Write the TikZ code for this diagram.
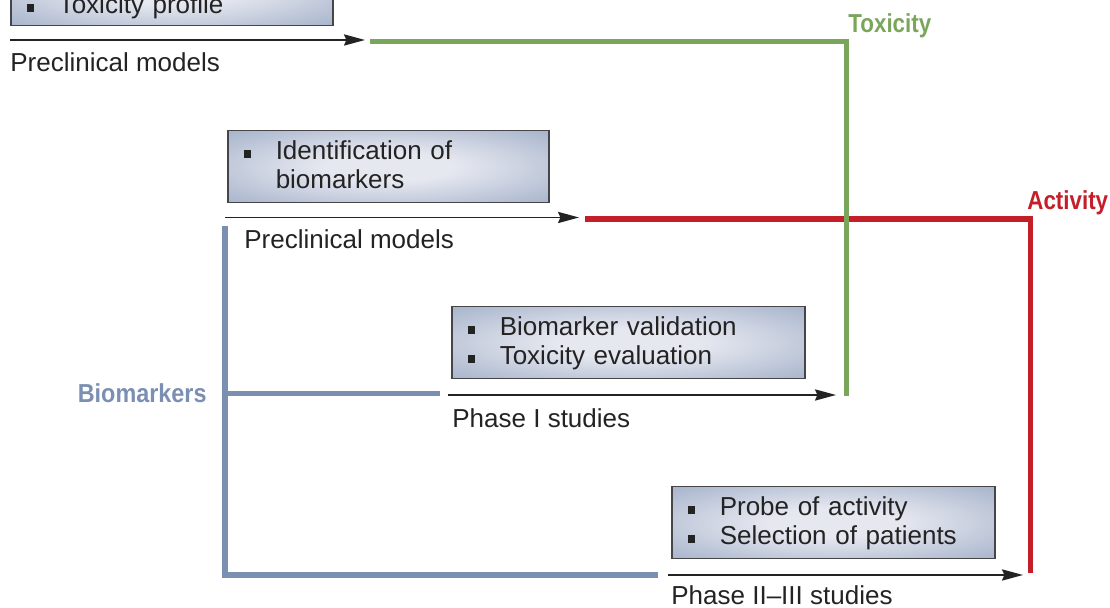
\documentclass[tikz,border=0pt]{standalone}
\usepackage{fontspec}
\usepackage{tikz}
\usetikzlibrary{positioning, arrows.meta, shadings}
\newfontfamily\diagfont{Liberation Sans}
\definecolor{toxGreen}{RGB}{122,166,92}
\definecolor{actRed}{RGB}{196,30,40}
\definecolor{bioBlue}{RGB}{122,143,178}
\definecolor{boxCore}{RGB}{230,232,240}
\definecolor{boxRim}{RGB}{156,171,197}
\definecolor{boxEdge}{RGB}{70,70,72}
\definecolor{inkGray}{RGB}{35,35,35}
\pgfdeclareradialshading{boxglow}{\pgfpoint{0bp}{0bp}}{color(0bp)=(boxCore); color(10bp)=(boxCore); color(40bp)=(boxRim); color(50bp)=(boxRim)}
\newcommand{\bul}{\makebox[16pt][l]{\raisebox{1pt}{\rule{3.8pt}{3.8pt}}}}

\begin{document}
\begin{tikzpicture}[
      x=0.5pt, y=-0.5pt,
      every node/.style={font=\diagfont\fontsize{13}{14.5}\selectfont, text=inkGray},
      stage/.style={draw=boxEdge, line width=0.75pt, shading=boxglow, anchor=north west,
        align=left, inner xsep=8pt, inner ysep=0pt, text height=14.5pt, text depth=21.5pt},
      lbl/.style={anchor=base west, inner sep=0pt},
      key/.style={anchor=base west, inner sep=0pt, font=\diagfont\bfseries\fontsize{13}{14.5}\selectfont},
      arr/.style={-{Stealth[length=10.5pt, width=5.6pt, inset=1.2pt]}, line width=0.85pt, inkGray},
      track/.style={line width=2.7pt}
    ]
    \useasboundingbox (0,0) rectangle (1110,608);
    \clip (0,0) rectangle (1110,608);

    \node[stage, text width=145pt, text height=30pt, text depth=6pt] (tp) at (10,-47) {\bul Toxicity profile};
    \node[stage, text width=144.5pt] (ib) at (227,130) {\bul Identification of\\\hspace*{16pt}biomarkers};
    \node[stage, text width=160.5pt] (bv) at (451,306) {\bul Biomarker validation\\\bul Toxicity evaluation};
    \node[stage, text width=145.5pt] (pa) at (671,486) {\bul Probe of activity\\\bul Selection of patients};

    \coordinate (a1s) at (10,40);
    \coordinate (a1e) at (365,40);
    \coordinate (a2s) at (225,217.5);
    \coordinate (a2e) at (579,217.5);
    \coordinate (a3s) at (448,395);
    \coordinate (a3e) at (836,395);
    \coordinate (a4s) at (668,575);
    \coordinate (a4e) at (1023,575);

    \coordinate (tx0) at (370,41.5);
    \coordinate (tx1) at (846.5,396);
    \coordinate (ac0) at (585,219);
    \coordinate (ac1) at (1030.5,573);
    \coordinate (bm0) at (225,226);
    \coordinate (bm1) at (658,575);
    \coordinate (bm2) at (225,393.5);
    \coordinate (bm3) at (440,393.5);

    \draw[arr] (a1s) -- (a1e);
    \draw[arr] (a2s) -- (a2e);
    \draw[arr] (a3s) -- (a3e);
    \draw[arr] (a4s) -- (a4e);

    \draw[track, bioBlue] (bm0) |- (bm1);
    \draw[track, bioBlue] (bm2) -- (bm3);
    \draw[track, actRed] (ac0) -| (ac1);
    \draw[track, toxGreen] (tx0) -| (tx1);

    \node[lbl] (pm1) at (10,72) {Preclinical models};
    \node[lbl] (pm2) at (244,249) {Preclinical models};
    \node[lbl] (ph1) at (452,428) {Phase I studies};
    \node[lbl] (ph23) at (671,605) {Phase II–III studies};

    \node[key, text=toxGreen] (tox) at (848,33) {\scalebox{0.86}[1]{Toxicity}};
    \node[key, text=actRed] (act) at (1027,210) {\scalebox{0.86}[1]{Activity}};
    \node[key, text=bioBlue, anchor=base east] (bio) at (207,403) {\scalebox{0.9}[1]{Biomarkers}};
  \end{tikzpicture}
\end{document}
